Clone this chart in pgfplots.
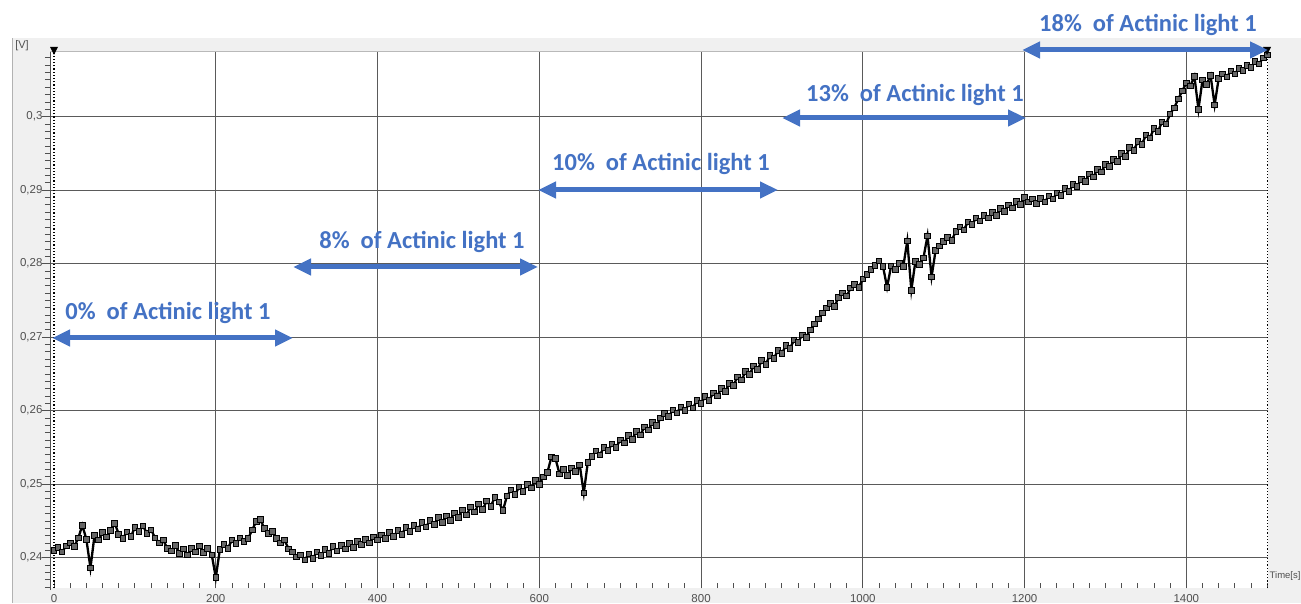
\documentclass[border=0pt]{standalone}
\usepackage{fontspec}
\setmainfont{Liberation Sans}
\newfontfamily\carlito{Carlito}
\usepackage{pgfplots}
\pgfplotsset{compat=1.18}
\usetikzlibrary{arrows.meta}
\definecolor{annblue}{HTML}{4472C4}
\definecolor{bggrey}{HTML}{F0F0F0}
\definecolor{gridc}{HTML}{5A5A5A}
\definecolor{tickc}{HTML}{505050}
\tikzset{ann/.style={text=annblue, font=\carlito\bfseries\fontsize{24.5}{28}\selectfont, inner sep=0pt},
  darr/.style={annblue, line width=5pt, {Triangle[length=18pt,width=16pt]}-{Triangle[length=18pt,width=16pt]}}}
\begin{document}
\begin{tikzpicture}
\useasboundingbox (0pt,0pt) rectangle (1301pt,603pt);
\clip (0pt,0pt) rectangle (1301pt,603pt);
\fill[white] (0pt,0pt) rectangle (1301pt,603pt);
\fill[bggrey] (12pt,0pt) rectangle (1301pt,565pt);
\draw[gray!60, line width=1pt] (12pt,0pt) -- (12pt,565pt);
\begin{axis}[
  at={(50pt,15pt)}, anchor=south west,
  scale only axis, width=1218pt, height=536pt,
  xmin=-5, xmax=1501, ymin=0.235878, ymax=0.308803,
  axis background/.style={fill=white},
  axis line style={draw=none},
  xtick={200,400,600,800,1000,1200,1400},
  xticklabels={200,400,600,800,1000,1200,1400},
  extra x ticks={0}, extra x tick labels={0},
  extra x tick style={grid=none},
  minor xtick={0,20,...,1500},
  ytick={0.24,0.25,0.26,0.27,0.28,0.29,0.30},
  yticklabels={{0,24},{0,25},{0,26},{0,27},{0,28},{0,29},{0,3}},
  minor ytick={0.236,0.237,...,0.3085},
  xtick pos=left, ytick pos=left,
  xtick align=inside, ytick align=outside,
  major tick length=8pt, minor tick length=5pt,
  every tick/.style={tickc, line width=0.9pt},
  grid=major,
  major grid style={gridc, line width=1.1pt},
  ticklabel style={font=\fontsize{11.5}{13}\selectfont, text=tickc},
  xticklabel style={yshift=-3pt},
  yticklabel style={xshift=4pt},
  clip=false,
]
\addplot[black, line width=2.3pt, mark=square*, mark size=2.8pt,
  mark options={fill=black!60, draw=black, line width=0.9pt, solid}] coordinates {
(0,0.2410) (5,0.2414) (10,0.2408) (15,0.2416) (20,0.2420) (25,0.2415) (30,0.2427) (35,0.2444) (40,0.2425) (45,0.2386)
(50,0.2430) (55,0.2424) (60,0.2434) (65,0.2428) (70,0.2437) (75,0.2447) (80,0.2432) (85,0.2426) (90,0.2435) (95,0.2429)
(100,0.2441) (105,0.2436) (110,0.2443) (115,0.2433) (120,0.2438) (125,0.2427) (130,0.2420) (135,0.2424) (140,0.2413) (145,0.2409)
(150,0.2417) (155,0.2406) (160,0.2412) (165,0.2404) (170,0.2413) (175,0.2408) (180,0.2416) (185,0.2407) (190,0.2413) (195,0.2404)
(200,0.2373) (205,0.2411) (210,0.2418) (215,0.2413) (220,0.2424) (225,0.2419) (230,0.2427) (235,0.2422) (240,0.2426) (245,0.2438)
(250,0.2449) (255,0.2452) (260,0.2440) (265,0.2433) (270,0.2436) (275,0.2426) (280,0.2420) (285,0.2424) (290,0.2412) (295,0.2408)
(300,0.2401) (305,0.2404) (310,0.2397) (315,0.2405) (320,0.2399) (325,0.2408) (330,0.2403) (335,0.2411) (340,0.2406) (345,0.2415)
(350,0.2409) (355,0.2417) (360,0.2412) (365,0.2419) (370,0.2414) (375,0.2422) (380,0.2418) (385,0.2425) (390,0.2420) (395,0.2428)
(400,0.2424) (405,0.2431) (410,0.2426) (415,0.2434) (420,0.2429) (425,0.2437) (430,0.2432) (435,0.2441) (440,0.2436) (445,0.2444)
(450,0.2439) (455,0.2448) (460,0.2442) (465,0.2451) (470,0.2445) (475,0.2455) (480,0.2448) (485,0.2457) (490,0.2451) (495,0.2461)
(500,0.2455) (505,0.2465) (510,0.2458) (515,0.2469) (520,0.2462) (525,0.2473) (530,0.2466) (535,0.2477) (540,0.2470) (545,0.2482)
(550,0.2476) (555,0.2464) (560,0.2484) (565,0.2492) (570,0.2486) (575,0.2496) (580,0.2490) (585,0.2500) (590,0.2495) (595,0.2505)
(600,0.2500) (605,0.2510) (610,0.2516) (615,0.2537) (620,0.2535) (625,0.2514) (630,0.2520) (635,0.2512) (640,0.2522) (645,0.2517)
(650,0.2526) (655,0.2488) (660,0.2530) (665,0.2538) (670,0.2545) (675,0.2540) (680,0.2550) (685,0.2546) (690,0.2555) (695,0.2550)
(700,0.2560) (705,0.2556) (710,0.2566) (715,0.2561) (720,0.2572) (725,0.2567) (730,0.2578) (735,0.2574) (740,0.2584) (745,0.2580)
(750,0.2590) (755,0.2596) (760,0.2592) (765,0.2601) (770,0.2597) (775,0.2605) (780,0.2600) (785,0.2609) (790,0.2604) (795,0.2614)
(800,0.2610) (805,0.2619) (810,0.2614) (815,0.2624) (820,0.2620) (825,0.2630) (830,0.2626) (835,0.2637) (840,0.2634) (845,0.2646)
(850,0.2642) (855,0.2653) (860,0.2649) (865,0.2661) (870,0.2656) (875,0.2668) (880,0.2663) (885,0.2675) (890,0.2671) (895,0.2682)
(900,0.2678) (905,0.2689) (910,0.2685) (915,0.2696) (920,0.2693) (925,0.2703) (930,0.2700) (935,0.2710) (940,0.2718) (945,0.2725)
(950,0.2733) (955,0.2740) (960,0.2746) (965,0.2742) (970,0.2754) (975,0.2760) (980,0.2756) (985,0.2767) (990,0.2772) (995,0.2768)
(1000,0.2779) (1005,0.2785) (1010,0.2792) (1015,0.2798) (1020,0.2804) (1025,0.2796) (1030,0.2768) (1035,0.2797) (1040,0.2792) (1045,0.2800)
(1050,0.2796) (1055,0.2831) (1060,0.2764) (1065,0.2803) (1070,0.2799) (1075,0.2808) (1080,0.2838) (1085,0.2782) (1090,0.2818) (1095,0.2824)
(1100,0.2830) (1105,0.2836) (1110,0.2832) (1115,0.2844) (1120,0.2850) (1125,0.2846) (1130,0.2857) (1135,0.2853) (1140,0.2862) (1145,0.2858)
(1150,0.2866) (1155,0.2862) (1160,0.2870) (1165,0.2866) (1170,0.2875) (1175,0.2871) (1180,0.2880) (1185,0.2876) (1190,0.2885) (1195,0.2881)
(1200,0.2890) (1205,0.2884) (1210,0.2888) (1215,0.2882) (1220,0.2889) (1225,0.2884) (1230,0.2892) (1235,0.2888) (1240,0.2896) (1245,0.2893)
(1250,0.2902) (1255,0.2898) (1260,0.2908) (1265,0.2905) (1270,0.2915) (1275,0.2912) (1280,0.2922) (1285,0.2918) (1290,0.2928) (1295,0.2925)
(1300,0.2935) (1305,0.2932) (1310,0.2942) (1315,0.2939) (1320,0.2950) (1325,0.2946) (1330,0.2958) (1335,0.2954) (1340,0.2966) (1345,0.2962)
(1350,0.2975) (1355,0.2971) (1360,0.2984) (1365,0.2980) (1370,0.2993) (1375,0.2990) (1380,0.3004) (1385,0.3012) (1390,0.3024) (1395,0.3035)
(1400,0.3046) (1405,0.3042) (1410,0.3055) (1415,0.3010) (1420,0.3050) (1425,0.3044) (1430,0.3056) (1435,0.3016) (1440,0.3052) (1445,0.3058)
(1450,0.3054) (1455,0.3062) (1460,0.3058) (1465,0.3066) (1470,0.3063) (1475,0.3070) (1480,0.3067) (1485,0.3075) (1490,0.3072) (1495,0.3080)
(1500,0.3084)
};
\draw[black, dotted, line width=1.2pt] (axis cs:0,0.235878) -- (axis cs:0,0.308803);
\draw[black, dotted, line width=1.2pt] (axis cs:1500,0.235878) -- (axis cs:1500,0.308803);
\end{axis}
% frame lines
\draw[tickc, line width=1pt] (50pt,13pt) -- (50pt,552pt);
\draw[gray!55, line width=1pt] (50pt,551pt) -- (1268pt,551pt);
% markers at top of the cursor lines
\fill[black] (50pt,556pt) -- (58pt,556pt) -- (54pt,548pt) -- cycle;
\fill[black] (1263pt,556pt) -- (1271pt,556pt) -- (1267pt,548pt) -- cycle;
% axis captions
\node[text=tickc, font=\fontsize{11}{13}\selectfont] at (22pt,557pt) {[V]};
\node[text=tickc, font=\fontsize{9.5}{11}\selectfont, anchor=west, inner sep=0pt] at (1269.5pt,27pt) {Time[s]};
% annotations
\draw[darr] (52pt,265pt) -- (293pt,265pt);
\node[ann] at (168pt,290pt) {0\%\ \ of Actinic light 1};
\draw[darr] (293pt,336pt) -- (538pt,336pt);
\node[ann] at (422pt,361pt) {8\%\ \ of Actinic light 1};
\draw[darr] (538pt,413pt) -- (778pt,413pt);
\node[ann] at (661pt,439pt) {10\%\ \ of Actinic light 1};
\draw[darr] (782pt,485pt) -- (1026pt,485pt);
\node[ann] at (915pt,508pt) {13\%\ \ of Actinic light 1};
\draw[darr] (1022pt,553pt) -- (1268pt,553pt);
\node[ann] at (1148pt,578pt) {18\%\ \ of Actinic light 1};
\end{tikzpicture}
\end{document}
